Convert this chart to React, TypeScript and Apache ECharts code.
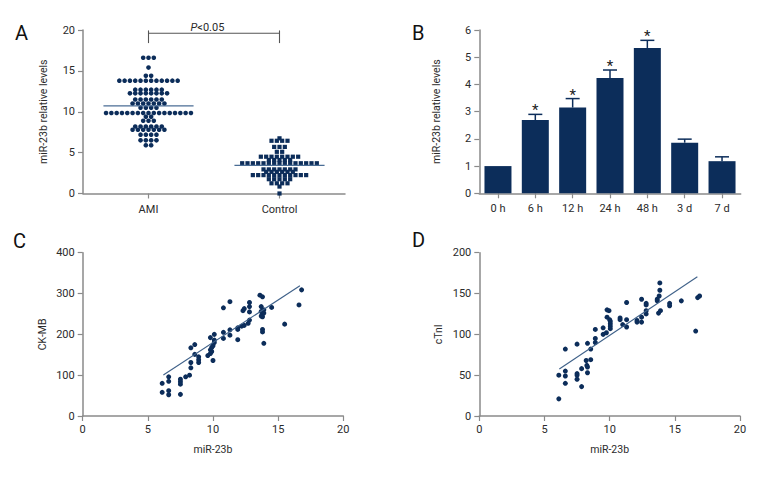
import React, { useEffect, useRef } from "react";
import * as echarts from "echarts";

const FONT = "Roboto, 'Liberation Sans', sans-serif";
const NAVY = "#0c2d5a";
const AXIS = "#8a8a8a";
const TEXT = "#2b2b2b";
const FIT = "#3f6189";

// ---------- Panel A ----------
const groupsA = ["AMI", "Control"];
const amiValues = [
  16.6, 16.6, 16.6,
  15.4,
  14.4, 14.4,
  13.8, 13.8, 13.8, 13.8, 13.8, 13.8, 13.8, 13.8, 13.8, 13.8, 13.8, 13.8,
  12.7, 12.7, 12.7, 12.7, 12.7, 12.7,
  12.25, 12.25, 12.25, 12.25, 12.25, 12.25, 12.25, 12.25,
  11.5, 11.5, 11.5, 11.5, 11.5, 11.5,
  11.0, 11.0, 11.0, 11.0, 11.0, 11.0, 11.0,
  10.5, 10.5, 10.5, 10.5,
  9.85, 9.85, 9.85, 9.85, 9.85, 9.85, 9.85, 9.85, 9.85, 9.85, 9.85, 9.85, 9.85, 9.85, 9.85, 9.85, 9.85,
  9.4, 9.4,
  8.9, 8.9, 8.9,
  8.2, 8.2, 8.2, 8.2, 8.2, 8.2,
  7.8, 7.8, 7.8, 7.8, 7.8, 7.8, 7.8,
  7.2, 7.2, 7.2, 7.2,
  6.5, 6.5, 6.5, 6.5,
  5.9, 5.9,
];
const controlValues = [
  6.75,
  6.45, 6.45, 6.45, 6.45,
  5.7, 5.7, 5.7,
  5.1, 5.1,
  4.5, 4.5, 4.5, 4.5, 4.5, 4.5, 4.5, 4.5,
  4.1, 4.1, 4.1, 4.1, 4.1,
  3.7, 3.7, 3.7, 3.7, 3.7, 3.7, 3.7, 3.7, 3.7, 3.7, 3.7, 3.7, 3.7, 3.7, 3.7,
  2.95, 2.95, 2.95, 2.95, 2.95, 2.95, 2.95,
  2.65, 2.65, 2.65, 2.65, 2.65, 2.65,
  2.25, 2.25, 2.25, 2.25, 2.25, 2.25, 2.25, 2.25, 2.25, 2.25, 2.25,
  1.75, 1.75, 1.75, 1.75, 1.75,
  1.25, 1.25, 1.25, 1.25,
  0.85,
  0,
];
const groupMeans = [10.73, 3.45];
const pLabel = "<0.05";

// ---------- Panel B ----------
const timePoints = ["0 h", "6 h", "12 h", "24 h", "48 h", "3 d", "7 d"];
const levels = [1.0, 2.69, 3.15, 4.24, 5.34, 1.86, 1.18];
const levelErrors = [0, 0.21, 0.33, 0.29, 0.28, 0.13, 0.16];
const significant = [0, 1, 1, 1, 1, 0, 0];

// ---------- Panel C ----------
const ckmbPoints = [
  [6.1, 80], [6.1, 58], [6.6, 96], [6.6, 85], [6.6, 62], [6.6, 52],
  [7.5, 90], [7.5, 84], [7.5, 78], [7.5, 53],
  [7.9, 96], [8.2, 100], [8.3, 118], [8.3, 131], [8.3, 167], [8.6, 175], [8.6, 151],
  [8.9, 145], [8.9, 138], [8.9, 131],
  [9.6, 148], [9.8, 153], [9.8, 162], [9.8, 192], [9.9, 168], [10.0, 136], [10.1, 200],
  [10.1, 186], [10.1, 180], [10.0, 172], [9.9, 158],
  [10.8, 190], [10.8, 205], [10.8, 265],
  [11.3, 211], [11.3, 198], [11.3, 280],
  [11.9, 216], [11.9, 212], [11.9, 187],
  [12.2, 220], [12.3, 258], [12.4, 263], [12.4, 222],
  [12.7, 227], [12.8, 235], [12.8, 255], [12.8, 278], [12.8, 268],
  [13.6, 296], [13.7, 268], [13.7, 256], [13.7, 245], [13.8, 292], [13.8, 250], [13.9, 260],
  [13.8, 243], [13.9, 252],
  [13.8, 212], [13.8, 206], [13.9, 178],
  [14.5, 266], [15.5, 225], [16.6, 272], [16.8, 309],
];
const ckmbFit = [[6.19, 100.4], [16.67, 319]];

// ---------- Panel D ----------
const ctniPoints = [
  [6.1, 50], [6.1, 21], [6.6, 82], [6.6, 55], [6.6, 49], [6.6, 40],
  [7.5, 88], [7.5, 52], [7.5, 50], [7.5, 45],
  [7.85, 36], [7.85, 58], [8.2, 68], [8.25, 62], [8.3, 60], [8.3, 53], [8.3, 89],
  [8.55, 82], [8.55, 69], [8.9, 95], [8.9, 90], [8.9, 106],
  [9.5, 100], [9.5, 108], [9.75, 102],
  [9.8, 130], [9.95, 129], [9.8, 121], [10.0, 118], [10.05, 116], [10.05, 113], [10.05, 110], [10.05, 107],
  [10.8, 120], [10.8, 118], [11.0, 112],
  [11.3, 139], [11.3, 118], [11.3, 109],
  [12.1, 117], [12.1, 115], [12.45, 115], [12.45, 121], [12.45, 143],
  [12.8, 125], [12.8, 129], [12.8, 138], [12.8, 136],
  [13.65, 143], [13.65, 141], [13.75, 126], [13.8, 147], [13.85, 154], [13.85, 163], [13.9, 129],
  [14.6, 138], [14.6, 135], [15.5, 141],
  [16.6, 104], [16.75, 145], [16.9, 147],
];
const ctniFit = [[6.14, 57.6], [16.73, 170.6]];

function swarm(values: number[], center: number, step: number) {
  const counts = new Map<number, number>();
  values.forEach((v) => counts.set(v, (counts.get(v) || 0) + 1));
  const seen = new Map<number, number>();
  return values.map((v) => {
    const n = counts.get(v) as number;
    const i = seen.get(v) || 0;
    seen.set(v, i + 1);
    return [center + (i - (n - 1) / 2) * step, v];
  });
}

const axisLine = { show: true, lineStyle: { color: AXIS, width: 1.5 } };
const axisTick = { show: true, length: 5, lineStyle: { color: AXIS, width: 1.2 } };
const axisLabel = { color: TEXT, fontFamily: FONT, fontSize: 11, margin: 8 };
const nameStyle = { color: TEXT, fontFamily: FONT, fontSize: 10.5 };
const dotStyle = { color: NAVY, opacity: 1 };

function valueAxis(gridIndex: number, min: number, max: number, interval: number, extra: any = {}) {
  return {
    type: "value",
    gridIndex,
    min,
    max,
    interval,
    axisLine,
    axisTick,
    axisLabel,
    splitLine: { show: false },
    nameTextStyle: nameStyle,
    nameLocation: "middle",
    ...extra,
  };
}

export default function App() {
  const ref = useRef<HTMLDivElement>(null);

  useEffect(() => {
    document.body.style.margin = "0";
    if (!ref.current) return;
    const chart = echarts.init(ref.current, undefined, { renderer: "svg" });

    const option: any = {
      animation: false,
      backgroundColor: "#ffffff",
      grid: [
        { left: 83, top: 30, width: 262, height: 163.5 },
        { left: 479.3, top: 30, width: 261.4, height: 163.3 },
        { left: 82.7, top: 252.7, width: 260.6, height: 163.3 },
        { left: 479.3, top: 252.7, width: 260.7, height: 163.3 },
      ],
      xAxis: [
        {
          type: "category",
          gridIndex: 0,
          data: groupsA,
          boundaryGap: true,
          axisLine,
          axisTick: { ...axisTick, alignWithLabel: true },
          axisLabel: { ...axisLabel, margin: 10 },
        },
        { type: "value", gridIndex: 0, min: 0.5, max: 2.5, show: false },
        {
          type: "category",
          gridIndex: 1,
          data: timePoints,
          boundaryGap: true,
          axisLine,
          axisTick: { ...axisTick, alignWithLabel: true },
          axisLabel: { ...axisLabel, margin: 10 },
        },
        valueAxis(2, 0, 20, 5, { name: "miR-23b", nameGap: 28 }),
        valueAxis(3, 0, 20, 5, { name: "miR-23b", nameGap: 28 }),
      ],
      yAxis: [
        valueAxis(0, 0, 20, 5, { name: "miR-23b relative levels", nameGap: 34 }),
        valueAxis(1, 0, 6, 1, { name: "miR-23b relative levels", nameGap: 37 }),
        valueAxis(2, 0, 400, 100, { name: "CK-MB", nameGap: 35 }),
        valueAxis(3, 0, 200, 50, { name: "cTnI", nameGap: 35 }),
      ],
      graphic: [
        { type: "text", left: 15, top: 23, style: { text: "A", font: `20px ${FONT}`, fill: "#111" } },
        { type: "text", left: 412, top: 23, style: { text: "B", font: `20px ${FONT}`, fill: "#111" } },
        { type: "text", left: 13, top: 231, style: { text: "C", font: `20px ${FONT}`, fill: "#111" } },
        { type: "text", left: 412, top: 230, style: { text: "D", font: `20px ${FONT}`, fill: "#111" } },
      ],
      series: [
        {
          type: "scatter",
          xAxisIndex: 1,
          yAxisIndex: 0,
          symbol: "circle",
          symbolSize: 4.6,
          itemStyle: dotStyle,
          data: swarm(amiValues, 1, 0.0405),
        },
        {
          type: "scatter",
          xAxisIndex: 1,
          yAxisIndex: 0,
          symbol: "rect",
          symbolSize: 4.2,
          itemStyle: dotStyle,
          data: swarm(controlValues, 2, 0.0407),
        },
        ...groupMeans.map((m, i) => ({
          type: "line",
          xAxisIndex: 1,
          yAxisIndex: 0,
          symbol: "none",
          z: 5,
          lineStyle: { color: "#4a6d95", width: 1.2 },
          data: [[i + 1 - 0.344, m], [i + 1 + 0.344, m]],
        })),
        {
          type: "custom",
          xAxisIndex: 1,
          yAxisIndex: 0,
          clip: false,
          data: [[1, 2]],
          renderItem: (_p: any, api: any) => {
            const l = api.coord([1, 19.6]);
            const r = api.coord([2, 19.6]);
            const lb = api.coord([1, 18.4]);
            const lt = api.coord([1, 19.95]);
            const rb = api.coord([2, 18.4]);
            const rt = api.coord([2, 19.95]);
            const t = api.coord([1.45, 20.35]);
            const st = { stroke: "#555", lineWidth: 1.1 };
            return {
              type: "group",
              children: [
                { type: "line", shape: { x1: l[0], y1: l[1], x2: r[0], y2: r[1] }, style: st },
                { type: "line", shape: { x1: lb[0], y1: lb[1], x2: lt[0], y2: lt[1] }, style: st },
                { type: "line", shape: { x1: rb[0], y1: rb[1], x2: rt[0], y2: rt[1] }, style: st },
                {
                  type: "text",
                  x: t[0],
                  y: t[1],
                  style: {
                    text: "{i|P}" + pLabel,
                    fill: TEXT,
                    font: `11px ${FONT}`,
                    align: "center",
                    verticalAlign: "middle",
                    rich: { i: { fontStyle: "italic", fontFamily: FONT, fontSize: 11, fill: TEXT } },
                  },
                },
              ],
            };
          },
        },
        {
          type: "bar",
          xAxisIndex: 2,
          yAxisIndex: 1,
          barWidth: 27,
          itemStyle: { color: NAVY },
          data: levels,
        },
        {
          type: "custom",
          xAxisIndex: 2,
          yAxisIndex: 1,
          clip: false,
          z: 3,
          data: levels.map((v, i) => [i, v, levelErrors[i], significant[i]]),
          renderItem: (_p: any, api: any) => {
            const i = api.value(0);
            const v = api.value(1);
            const e = api.value(2);
            const s = api.value(3);
            const children: any[] = [];
            const base = api.coord([i, v]);
            const top = api.coord([i, v + e]);
            if (e > 0) {
              const st = { stroke: NAVY, lineWidth: 1.5 };
              children.push({ type: "line", shape: { x1: base[0], y1: base[1], x2: top[0], y2: top[1] }, style: st });
              children.push({ type: "line", shape: { x1: top[0] - 7, y1: top[1], x2: top[0] + 7, y2: top[1] }, style: st });
            }
            if (s) {
              children.push({
                type: "text",
                x: top[0],
                y: top[1] - 4,
                style: { text: "*", fill: "#222", font: `15px ${FONT}`, align: "center", verticalAlign: "middle" },
              });
            }
            return { type: "group", children };
          },
        },
        {
          type: "scatter",
          xAxisIndex: 3,
          yAxisIndex: 2,
          symbolSize: 5,
          itemStyle: dotStyle,
          data: ckmbPoints,
        },
        {
          type: "line",
          xAxisIndex: 3,
          yAxisIndex: 2,
          symbol: "none",
          lineStyle: { color: FIT, width: 1.1 },
          data: ckmbFit,
        },
        {
          type: "scatter",
          xAxisIndex: 4,
          yAxisIndex: 3,
          symbolSize: 5,
          itemStyle: dotStyle,
          data: ctniPoints,
        },
        {
          type: "line",
          xAxisIndex: 4,
          yAxisIndex: 3,
          symbol: "none",
          lineStyle: { color: FIT, width: 1.1 },
          data: ctniFit,
        },
      ],
    };

    chart.setOption(option);
    return () => chart.dispose();
  }, []);

  return <div ref={ref} style={{ width: 780, height: 480 }} />;
}
